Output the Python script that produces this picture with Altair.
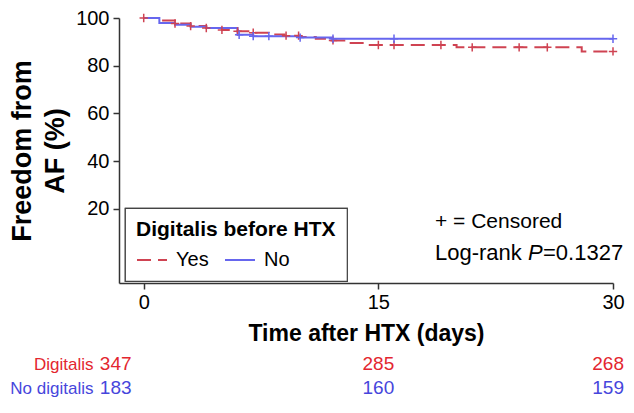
import altair as alt
import pandas as pd

# ---- data ----
yes_time = [0, 1, 2, 3, 4, 5, 6, 7, 8, 9, 10, 11, 12, 13, 14.2, 20, 28, 30]
yes_surv = [100, 98.9, 97.7, 96.6, 95.8, 95.0, 94.4, 93.8, 93.1, 92.6, 92.0, 91.3, 90.6, 89.5, 88.7, 87.7, 86.0, 86.0]
no_time = [0, 1, 2, 3, 4, 6, 7, 10, 12, 30]
no_surv = [100, 97.9, 97.2, 96.3, 95.8, 93.0, 92.4, 91.8, 91.3, 91.3]
yes_censor = [0, 2, 3, 4, 5, 6, 7, 9.1, 9.9, 12.1, 15.0, 16.0, 19.0, 21.0, 24.0, 25.8, 30]
no_censor = [6.1, 7.0, 8.0, 10.0, 12.1, 16.0, 30]
groups = ["Yes", "No"]
risk_time = [0, 15, 30]
risk_yes = [347, 285, 268]
risk_no = [183, 160, 159]
risk_labels = ["Digitalis", "No digitalis"]
x_ticks = [0, 15, 30]
y_ticks = [20, 40, 60, 80, 100]
note1 = "+ = Censored"
note2a, note2b, note2c = "Log-rank ", "P", "=0.1327"

RED = "#cf4352"
BLUE = "#6666ee"
TRED = "#e3262f"
TBLUE = "#4646dc"
FONT = "Liberation Sans"
XDOM = [-1.58, 30]
YDOM = [-11.1, 100]


def surv_at(times, survs, t):
    val = survs[0]
    for ti, si in zip(times, survs):
        if ti <= t:
            val = si
    return val


curve = pd.DataFrame(
    [{"group": "Yes", "time": t, "surv": s} for t, s in zip(yes_time, yes_surv)]
    + [{"group": "No", "time": t, "surv": s} for t, s in zip(no_time, no_surv)]
)
cens = pd.DataFrame(
    [{"group": "Yes", "time": t, "surv": surv_at(yes_time, yes_surv, t)} for t in yes_censor]
    + [{"group": "No", "time": t, "surv": surv_at(no_time, no_surv, t)} for t in no_censor]
)
risk = pd.DataFrame(
    [{"label": risk_labels[0], "time": t, "n": n} for t, n in zip(risk_time, risk_yes)]
    + [{"label": risk_labels[1], "time": t, "n": n} for t, n in zip(risk_time, risk_no)]
)

xscale = alt.Scale(domain=XDOM, nice=False, zero=False)
yscale = alt.Scale(domain=YDOM, nice=False, zero=False)

x_enc = alt.X(
    "time:Q", scale=xscale,
    axis=alt.Axis(values=x_ticks, title="Time after HTX (days)", grid=False, labelFlush=False,
                  labelFontSize=20, labelFont=FONT, labelColor="black",
                  titleFontSize=23, titleFont=FONT, titleFontWeight="bold", titleColor="black",
                  tickSize=6, tickColor="#333", domainColor="#333", domainWidth=1.5, tickWidth=1.5,
                  labelPadding=3, titlePadding=10),
)
y_enc = alt.Y(
    "surv:Q", scale=yscale,
    axis=alt.Axis(values=y_ticks, title=["Freedom from", "AF (%)"], grid=False,
                  labelFontSize=20, labelFont=FONT, labelColor="black",
                  titleFontSize=27, titleFont=FONT, titleFontWeight="bold", titleColor="black",
                  titleLineHeight=33,
                  tickSize=6, tickColor="#333", domainColor="#333", domainWidth=1.5, tickWidth=1.5,
                  labelPadding=4, titlePadding=6),
)

lines = alt.Chart(curve).mark_line(interpolate="step-after", strokeWidth=2).encode(
    x=x_enc, y=y_enc,
    color=alt.Color("group:N", scale=alt.Scale(domain=groups, range=[RED, BLUE]),
                    legend=alt.Legend(title="Digitalis before HTX")),
    strokeDash=alt.StrokeDash("group:N", scale=alt.Scale(domain=groups, range=[[14, 7], [1, 0]]),
                              legend=alt.Legend(title="Digitalis before HTX")),
    detail="group:N",
)

points = alt.Chart(cens).mark_point(
    shape="M-1,0L1,0M0,-1L0,1", size=70, strokeWidth=1.5, filled=False, opacity=1
).encode(
    x="time:Q", y="surv:Q",
    stroke=alt.Stroke("group:N", scale=alt.Scale(domain=groups, range=[RED, BLUE]), legend=None),
)

t1 = alt.Chart(pd.DataFrame({"t": [note1]})).mark_text(
    align="left", baseline="middle", fontSize=21, font=FONT, color="black"
).encode(text="t:N", x=alt.value(316), y=alt.value(204))
t2 = alt.Chart(pd.DataFrame({"t": [note2a]})).mark_text(
    align="left", baseline="middle", fontSize=22, font=FONT, color="black"
).encode(text="t:N", x=alt.value(316), y=alt.value(235))
t3 = alt.Chart(pd.DataFrame({"t": [note2b]})).mark_text(
    align="left", baseline="middle", fontSize=22, font=FONT, color="black", fontStyle="italic"
).encode(text="t:N", x=alt.value(409), y=alt.value(235))
t4 = alt.Chart(pd.DataFrame({"t": [note2c]})).mark_text(
    align="left", baseline="middle", fontSize=22, font=FONT, color="black"
).encode(text="t:N", x=alt.value(424), y=alt.value(235))

top = alt.layer(lines, points, t1, t2, t3, t4).properties(width=494, height=265)

risk_y = alt.Y(
    "label:N", sort=risk_labels, scale=alt.Scale(domain=risk_labels, paddingInner=0, paddingOuter=0),
    axis=alt.Axis(title=None, domain=False, ticks=False, labelFontSize=17, labelFont=FONT,
                  labelPadding=26,
                  labelColor=alt.condition("datum.value == 'Digitalis'", alt.value(TRED), alt.value(TBLUE))),
)
risk_color = alt.Color("label:N", scale=alt.Scale(domain=risk_labels, range=[TRED, TBLUE]), legend=None)
risk_x = alt.X("time:Q", scale=xscale, axis=None)

risk_first = alt.Chart(risk).transform_filter("datum.time == 0").mark_text(
    fontSize=19, font=FONT, dx=-28
).encode(x=risk_x, y=risk_y, text="n:Q", color=risk_color)
risk_mid = alt.Chart(risk).transform_filter("datum.time > 0 && datum.time < 30").mark_text(
    fontSize=19, font=FONT
).encode(x=risk_x, y=risk_y, text="n:Q", color=risk_color)
risk_last = alt.Chart(risk).transform_filter("datum.time == 30").mark_text(
    fontSize=19, font=FONT, align="right", dx=11
).encode(x=risk_x, y=risk_y, text="n:Q", color=risk_color)

bottom = alt.layer(risk_first, risk_mid, risk_last).properties(width=494, height=48)

chart = alt.vconcat(top, bottom, spacing=7).resolve_scale(
    color="independent"
).resolve_legend(color="independent").properties(
    padding={"left": 0, "top": 0, "right": 0, "bottom": 0}
).configure_view(stroke=None).configure_legend(
    orient="none", legendX=6, legendY=190, direction="horizontal",
    strokeColor="#444", strokeWidth=1.2, padding=11, cornerRadius=0, fillColor="white",
    titleFontSize=21, titleFont=FONT, titleFontWeight="bold", titleColor="black", titleLimit=400,
    titlePadding=4,
    labelFontSize=20, labelFont=FONT, labelColor="black",
    symbolType="stroke", symbolStrokeWidth=2, symbolSize=900, columnPadding=12, labelOffset=8,
)

chart.save("out.html", embed_options={"renderer": "svg", "actions": False})
